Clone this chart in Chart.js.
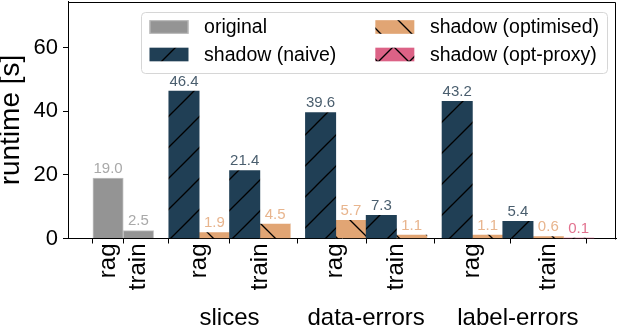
<!DOCTYPE html>
<html><head><meta charset="utf-8">
<script src="https://cdn.jsdelivr.net/npm/chart.js@4"></script>
<style>html,body{margin:0;padding:0;background:#fff;}#wrap{width:618px;height:326px;}</style>
</head><body><div id="wrap"><canvas id="c" width="618" height="326"></canvas></div>
<script>
// ---------- data ----------
const groups = ['', 'slices', 'data-errors', 'label-errors'];
const subLabels = ['rag', 'train'];
const seriesNames = ['original', 'shadow (naive)', 'shadow (optimised)', 'shadow (opt-proxy)'];
// cells: original-rag, original-train, slices-rag, slices-train, data-errors-rag, data-errors-train, label-errors-rag, label-errors-train
const originalVals  = [19.0, 2.5, null, null, null, null, null, null];
const naiveVals     = [null, null, 46.4, 21.4, 39.6, 7.3, 43.2, 5.4];
const optimisedVals = [null, null, 1.9, 4.5, 5.7, 1.1, 1.1, 0.6];
const proxyVals     = [null, null, null, null, null, null, null, 0.1];
const yTicks = [0, 20, 40, 60];

// ---------- styles ----------
const FONT = "'Liberation Sans', Arial, sans-serif";
Chart.defaults.font.family = FONT;
const fills = ['#949494', '#203f55', '#e1a574', '#dc6286'];
const hatches = ['', '/', '\\', 'x'];
const labelColors = ['#a9a9a9', '#4a5e6e', '#e8b58e', '#e2728f'];
const PERIOD = 31;

function makePattern(color, kind) {
  const P = PERIOD;
  const c = document.createElement('canvas'); c.width = P; c.height = P;
  const g = c.getContext('2d');
  g.fillStyle = color; g.fillRect(0, 0, P, P);
  g.strokeStyle = '#000'; g.lineWidth = 1.3;
  if (kind === '/' || kind === 'x') {
    for (const o of [-P, 0, P]) { g.beginPath(); g.moveTo(-2, P + o + 2); g.lineTo(P + 2, o - 2); g.stroke(); }
  }
  if (kind === '\\' || kind === 'x') {
    for (const o of [-P, 0, P]) { g.beginPath(); g.moveTo(-2, -2 - o); g.lineTo(P + 2, P + 2 - o); g.stroke(); }
  }
  const pat = document.getElementById('c').getContext('2d').createPattern(c, 'repeat');
  pat.setTransform(new DOMMatrix([1, 0, 0, 1, 6, 0]));
  return pat;
}
const bgs = fills.map((f, i) => hatches[i] ? makePattern(f, hatches[i]) : f);

// ---------- layout of bar slots (in bar-width units) ----------
const allSeries = [originalVals, naiveVals, optimisedVals, proxyVals];
const GAP = 0.5;
let cursor = 0;
const cellCenters = [], groupCenters = [];
const barX = allSeries.map(() => []);
groups.forEach((g, gi) => {
  const gStart = cursor;
  subLabels.forEach((s, si) => {
    const ci = gi * subLabels.length + si;
    let k = 0;
    allSeries.forEach((arr, di) => { if (arr[ci] !== null) { barX[di][ci] = cursor + k + 0.5; k++; } });
    cellCenters.push(cursor + k / 2);
    cursor += k;
  });
  groupCenters.push((gStart + cursor) / 2);
  cursor += GAP;
});
const xMin = -0.82, xMax = cursor - GAP + 0.73;

const datasets = allSeries.map((arr, di) => ({
  label: seriesNames[di],
  data: arr.map((v, ci) => v === null ? null : { x: barX[di][ci], y: v }).filter(Boolean),
  backgroundColor: bgs[di],
  borderColor: di === 0 ? '#c2c2c2' : 'rgba(0,0,0,0)',
  borderWidth: di === 0 ? 1 : 0,
  grouped: false,
  barPercentage: 1,
  categoryPercentage: 1
}));

// ---------- plugins ----------
const valueLabels = {
  id: 'valueLabels',
  afterDatasetsDraw(chart) {
    const ctx = chart.ctx;
    ctx.save();
    ctx.font = `15px ${FONT}`;
    ctx.textAlign = 'center'; ctx.textBaseline = 'bottom';
    chart.data.datasets.forEach((ds, di) => {
      const meta = chart.getDatasetMeta(di);
      ctx.fillStyle = labelColors[di];
      meta.data.forEach((el, i) => ctx.fillText(ds.data[i].y.toFixed(1), el.x, el.y - 2));
    });
    ctx.restore();
  }
};
const frame = {
  id: 'frame',
  afterDraw(chart) {
    const { ctx, chartArea: a } = chart;
    ctx.save();
    ctx.strokeStyle = '#000'; ctx.lineWidth = 1;
    ctx.beginPath();
    ctx.moveTo(Math.round(a.left) + 0.5, Math.round(a.top) + 0.5);
    ctx.lineTo(Math.round(a.right) - 0.5, Math.round(a.top) + 0.5);
    ctx.lineTo(Math.round(a.right) - 0.5, Math.round(a.bottom) + 0.5);
    ctx.stroke();
    ctx.restore();
  }
};
const legendBox = {
  id: 'legendBox',
  afterDraw(chart) {
    const { ctx, chartArea: a } = chart;
    const fs = 19.5;
    const ds = chart.data.datasets;
    const cols = [[0, 1], [2, 3]];
    const handleW = 2 * fs, handleH = 0.7 * fs, textPad = 0.8 * fs, colSp = 2 * fs, pad = 8;
    ctx.save();
    ctx.font = `${fs}px ${FONT}`;
    const colTextW = cols.map(c => Math.max(...c.map(i => ctx.measureText(ds[i].label).width)));
    const boxW = pad * 2 + cols.length * (handleW + textPad) + colTextW.reduce((s, w) => s + w, 0) + colSp * (cols.length - 1);
    const boxH = 61;
    const right = a.right - 9, top = a.top + 10.5, left = right - boxW;
    ctx.beginPath();
    ctx.roundRect(Math.round(left) + 0.5, Math.round(top) + 0.5, Math.round(boxW), boxH, 4);
    ctx.fillStyle = 'rgba(255,255,255,0.8)'; ctx.fill();
    ctx.strokeStyle = '#d6d6d6'; ctx.lineWidth = 1; ctx.stroke();
    const rowY = [top + 15, top + 42.5];
    let x = left + pad;
    cols.forEach((c, ci) => {
      c.forEach((i, ri) => {
        const cy = rowY[ri];
        ctx.fillStyle = ds[i].backgroundColor;
        ctx.fillRect(x, cy - handleH / 2, handleW, handleH);
        if (ds[i].borderWidth) { ctx.strokeStyle = ds[i].borderColor; ctx.lineWidth = 1; ctx.strokeRect(x + 0.5, cy - handleH / 2 + 0.5, handleW - 1, handleH - 1); }
        ctx.fillStyle = '#000'; ctx.textAlign = 'left'; ctx.textBaseline = 'middle';
        ctx.fillText(ds[i].label, x + handleW + textPad, cy + 1);
      });
      x += handleW + textPad + colTextW[ci] + colSp;
    });
    ctx.restore();
  }
};

new Chart(document.getElementById('c'), {
  type: 'bar',
  data: { datasets },
  plugins: [valueLabels, frame, legendBox],
  options: {
    responsive: false, animation: false,
    layout: { padding: { top: 1.5, right: 2, left: 0, bottom: 0 } },
    plugins: { legend: { display: false }, tooltip: { enabled: false } },
    scales: {
      x: {
        type: 'linear', position: 'bottom', min: xMin, max: xMax, offset: false,
        grid: { display: true, drawOnChartArea: false, drawTicks: true, tickLength: 5, color: '#000' },
        border: { display: true, color: '#000', width: 1 },
        afterBuildTicks: s => { s.ticks = cellCenters.map(v => ({ value: v })); },
        ticks: { autoSkip: false, minRotation: 90, maxRotation: 90, padding: 0, color: '#000', font: { size: 24 },
          callback: (v, i) => subLabels[i % subLabels.length] },
        afterFit: s => { s.height = 62; s.paddingLeft = 0; s.paddingRight = 0; }
      },
      x2: {
        type: 'linear', position: 'bottom', min: xMin, max: xMax, offset: false,
        grid: { display: false, drawTicks: false }, border: { display: false },
        afterBuildTicks: s => { s.ticks = groupCenters.filter((v, i) => groups[i]).map(v => ({ value: v })); },
        ticks: { autoSkip: false, minRotation: 0, maxRotation: 0, padding: 3, color: '#000', font: { size: 24 },
          callback: (v, i) => groups.filter(g => g)[i] },
        afterFit: s => { s.height = 25.5; s.paddingLeft = 0; s.paddingRight = 0; }
      },
      y: {
        min: 0, max: 74.6,
        grid: { display: true, drawOnChartArea: false, drawTicks: true, tickLength: 5, color: '#000' },
        border: { display: true, color: '#000', width: 1 },
        afterBuildTicks: s => { s.ticks = yTicks.map(v => ({ value: v })); },
        ticks: { padding: 5, color: '#000', font: { size: 22 } },
        title: { display: true, text: 'runtime [s]', color: '#000', font: { size: 28, lineHeight: 1.0 }, padding: { top: -3, bottom: 0 } },
        afterFit: s => { s.width = 68; s.paddingTop = 0; s.paddingBottom = 0; }
      }
    }
  }
});
</script>
</body></html>
